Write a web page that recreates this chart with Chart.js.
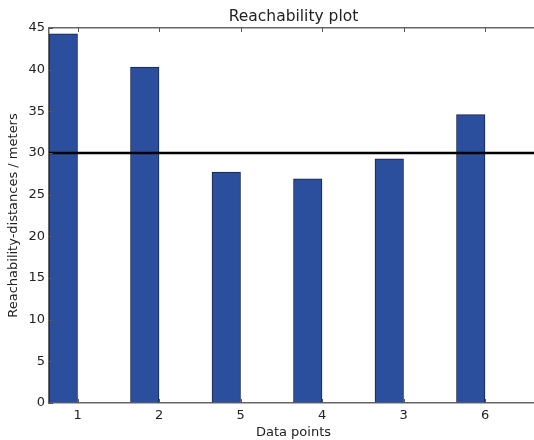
<!DOCTYPE html>
<html>
<head>
<meta charset="utf-8">
<script src="https://cdn.jsdelivr.net/npm/chart.js@4/dist/chart.umd.min.js"></script>
<style>
  html, body { margin: 0; padding: 0; background: #ffffff; overflow: hidden; }
  canvas { display: block; }
</style>
</head>
<body>
<canvas id="c" width="540" height="440"></canvas>
<script>
// ---- data ----
const categories = ['1', '2', '5', '4', '3', '6'];
const reachability = [44.3, 40.3, 27.7, 26.9, 29.3, 34.6];
const threshold = 30;
const yTicks = [0, 5, 10, 15, 20, 25, 30, 35, 40, 45];
const barWidth = 0.35;           // bar width in data units (x index)
const xMin = 0, xMax = 6;

// positions derived from the category index
const barData = categories.map((c, i) => ({ x: i + barWidth / 2, y: reachability[i] }));
const tickPositions = categories.map((c, i) => i + barWidth);

const FONT = 'DejaVu Sans';
const SPINE = '#666666';

const inwardTicks = {
  id: 'inwardTicks',
  afterDatasetsDraw(chart) {
    const { ctx, chartArea: a, scales } = chart;
    ctx.save();
    ctx.strokeStyle = '#555555';
    ctx.lineWidth = 1;
    const L = 4;
    yTicks.forEach(v => {
      const y = Math.round(scales.y.getPixelForValue(v)) + 0.5;
      ctx.beginPath();
      ctx.moveTo(a.left, y); ctx.lineTo(a.left + L, y);
      ctx.moveTo(a.right, y); ctx.lineTo(a.right - L, y);
      ctx.stroke();
    });
    tickPositions.forEach(v => {
      const x = Math.round(scales.x.getPixelForValue(v)) + 0.5;
      ctx.beginPath();
      ctx.moveTo(x, a.top); ctx.lineTo(x, a.top + L);
      ctx.moveTo(x, a.bottom); ctx.lineTo(x, a.bottom - L);
      ctx.stroke();
    });
    ctx.restore();
  }
};

new Chart(document.getElementById('c'), {
  data: {
    datasets: [
      {
        type: 'line',
        data: [{ x: xMin, y: threshold }, { x: xMax, y: threshold }],
        borderColor: '#000000',
        borderWidth: 2.5,
        pointRadius: 0,
        order: 0
      },
      {
        type: 'bar',
        data: barData,
        backgroundColor: '#2c4f9d',
        borderColor: '#15234a',
        borderWidth: 1,
        barThickness: 28.5,
        order: 1
      }
    ]
  },
  options: {
    responsive: false,
    maintainAspectRatio: false,
    animation: false,
    devicePixelRatio: 1,
    layout: { padding: 0 },
    plugins: { legend: { display: false }, tooltip: { enabled: false }, title: { display: false } },
    scales: {
      x: {
        type: 'linear',
        position: 'bottom',
        offset: false,
        min: xMin, max: xMax,
        afterBuildTicks: s => { s.ticks = tickPositions.map(v => ({ value: v })); },
        afterFit: s => { s.height = 37; },
        ticks: {
          autoSkip: false,
          maxRotation: 0,
          padding: 5,
          color: '#222222',
          font: { family: FONT, size: 13 },
          callback: (v, i) => categories[i]
        },
        grid: { drawOnChartArea: false, drawTicks: false, offset: false },
        border: { display: true, color: SPINE, width: 1.5 },
        title: { display: true, text: 'Data points', color: '#222222', font: { family: FONT, size: 13 }, padding: { top: 0, bottom: 0 } }
      },
      xTop: {
        type: 'linear',
        position: 'top',
        offset: false,
        min: xMin, max: xMax,
        afterFit: s => { s.height = 28; },
        ticks: { display: false },
        grid: { drawOnChartArea: false, drawTicks: false },
        border: { display: true, color: SPINE, width: 1.5 },
        title: { display: true, text: 'Reachability plot', color: '#222222', font: { family: FONT, size: 15.5 }, padding: { top: 8, bottom: 0 } }
      },
      y: {
        type: 'linear',
        position: 'left',
        min: 0, max: 45,
        afterBuildTicks: s => { s.ticks = yTicks.map(v => ({ value: v })); },
        afterFit: s => { s.width = 49; },
        ticks: { padding: 4, color: '#222222', font: { family: FONT, size: 13 } },
        grid: { drawOnChartArea: false, drawTicks: false },
        border: { display: true, color: SPINE, width: 1.5 },
        title: { display: true, text: 'Reachability-distances / meters', color: '#222222', font: { family: FONT, size: 13 }, padding: { top: 6, bottom: 0 } }
      },
      yRight: {
        type: 'linear',
        position: 'right',
        min: 0, max: 45,
        afterFit: s => { s.width = 2; },
        ticks: { display: false },
        grid: { drawOnChartArea: false, drawTicks: false },
        border: { display: true, color: SPINE, width: 1.5 }
      }
    }
  },
  plugins: [inwardTicks]
});
</script>
</body>
</html>
